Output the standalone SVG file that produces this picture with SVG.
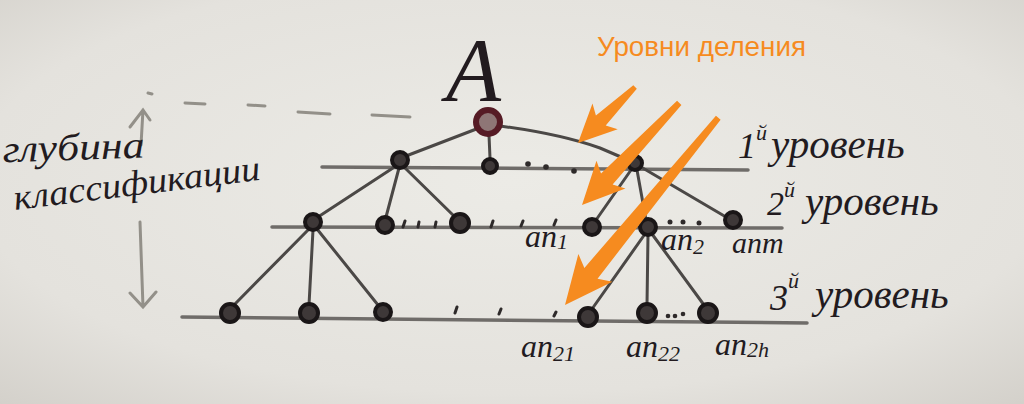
<svg xmlns="http://www.w3.org/2000/svg" width="1024" height="404" viewBox="0 0 1024 404">
<defs>
<radialGradient id="paper" cx="0.5" cy="0.45" r="0.75">
<stop offset="0" stop-color="#ecebe6"/>
<stop offset="0.7" stop-color="#e4e2dd"/>
<stop offset="1" stop-color="#d3d0ca"/>
</radialGradient>
<style>
.lvl{stroke:#6f6c69;stroke-width:3.5;fill:none;stroke-linecap:round}
.edge{stroke:#4b4846;stroke-width:3;fill:none;stroke-linecap:round}
.tick{stroke:#2e2a2a;stroke-width:3;stroke-linecap:round}
.dash{stroke:#939089;stroke-width:3;stroke-linecap:round;fill:none}
.node{fill:#3e3838;stroke:#1a1617;stroke-width:4}
.dot{fill:#2e2a2a}
.hand{font-family:"Liberation Serif","DejaVu Serif",serif;font-style:italic;fill:#221b1f}
.sub{font-size:22px}
.arrow{fill:#f68b1f}
.orange{font-family:"Liberation Sans",Arial,sans-serif;fill:#f68b1f}
</style>
</defs>
<rect width="1024" height="404" fill="url(#paper)"/>

<g id="depth-indicator">
<path class="dash" d="M143,110 L141,145 M130,127 L143,110 L150,120"/>
<path class="dash" d="M140,222 L143,307 M130,293 L143,307 L156,292"/>
<path class="dash" d="M148,93 L152,94 M185,103 L205,104 M248,105 L265,106 M298,112 L330,114 M372,115 L410,117"/>
</g>

<g id="levels">
<path class="lvl" d="M322,167 L748,170"/>
<path class="lvl" d="M272,227 L782,228"/>
<path class="lvl" d="M182,317 L807,323"/>
</g>

<g id="connectors">
<path class="edge" d="M479,128 L406,156"/>
<path class="edge" d="M489,135 L490,158"/>
<path class="edge" d="M500,126 Q560,134 600,148 L628,160"/>
<path class="edge" d="M396,166 L318,217"/>
<path class="edge" d="M399,168 L386,217"/>
<path class="edge" d="M404,167 L455,217"/>
<path class="edge" d="M631,170 L596,220"/>
<path class="edge" d="M637,170 L646,220"/>
<path class="edge" d="M641,167 L726,217"/>
<path class="edge" d="M309,229 L234,305"/>
<path class="edge" d="M313,230 L309,305"/>
<path class="edge" d="M317,229 L378,305"/>
<path class="edge" d="M645,234 L592,309"/>
<path class="edge" d="M648,235 L647,305"/>
<path class="edge" d="M652,234 L704,305"/>
</g>

<g id="ticks">
<path class="tick" d="M403,227 L405,221 M418,227 L419,222 M435,227 L436,222 M491,227 L493,221 M521,226 L523,221 M554,225 L556,220"/>
<path class="tick" d="M455,313 L457,307 M499,314 L501,309 M554,316 L556,312"/>
<circle class="dot" cx="528" cy="164" r="2.8"/>
<circle class="dot" cx="546" cy="167" r="2.8"/>
<circle class="dot" cx="574" cy="171" r="2.8"/>
<circle class="dot" cx="670" cy="222" r="2.5"/>
<circle class="dot" cx="683" cy="222" r="2.5"/>
<circle class="dot" cx="699" cy="223" r="2.5"/>
<circle class="dot" cx="668" cy="316" r="2.3"/>
<circle class="dot" cx="675" cy="316" r="2.3"/>
<circle class="dot" cx="683" cy="314" r="2.3"/>
</g>

<g id="node-root"><circle cx="488" cy="122" r="12" fill="#8e7676" stroke="#561b25" stroke-width="6"/></g>
<g id="node-l1-a"><circle class="node" cx="400" cy="160" r="8" fill="#7a7272"/></g>
<g id="node-l1-b"><circle class="node" cx="490" cy="166" r="7" fill="#6a6262"/></g>
<g id="node-l1-c"><circle class="node" cx="635" cy="163" r="7"/></g>
<g id="node-l2-a"><circle class="node" cx="313" cy="222" r="8"/></g>
<g id="node-l2-b"><circle class="node" cx="385" cy="225" r="8"/></g>
<g id="node-l2-c"><circle class="node" cx="460" cy="223" r="9"/></g>
<g id="node-an1"><circle class="node" cx="592" cy="227" r="8"/></g>
<g id="node-an2"><circle class="node" cx="648" cy="227" r="8"/></g>
<g id="node-anm"><circle class="node" cx="733" cy="220" r="8"/></g>
<g id="node-l3-a"><circle class="node" cx="230" cy="313" r="9"/></g>
<g id="node-l3-b"><circle class="node" cx="309" cy="313" r="9"/></g>
<g id="node-l3-c"><circle class="node" cx="383" cy="312" r="8"/></g>
<g id="node-an21"><circle class="node" cx="588" cy="317" r="9"/></g>
<g id="node-an22"><circle class="node" cx="647" cy="313" r="9"/></g>
<g id="node-an2h"><circle class="node" cx="708" cy="313" r="9"/></g>

<g id="labels">
<text class="hand" x="446" y="101" font-size="90">A</text>
<text class="hand" x="3" y="160" font-size="38" textLength="142" lengthAdjust="spacingAndGlyphs" transform="rotate(-2 70 160)">глубина</text>
<text class="hand" x="15" y="210" font-size="36" textLength="248" lengthAdjust="spacingAndGlyphs" transform="rotate(-7 15 210)">классификации</text>
<text class="hand" x="525" y="247" font-size="32">an<tspan class="sub" dy="2">1</tspan></text>
<text class="hand" x="661" y="250" font-size="32">an<tspan class="sub" dy="4">2</tspan></text>
<text class="hand" x="732" y="253" font-size="30">anm</text>
<text class="hand" x="521" y="357" font-size="32">an<tspan class="sub" dy="4">21</tspan></text>
<text class="hand" x="626" y="357" font-size="32">an<tspan class="sub" dy="4">22</tspan></text>
<text class="hand" x="715" y="355" font-size="32">an<tspan class="sub" dy="2">2h</tspan></text>
<text class="hand" x="738" y="158" font-size="36">1<tspan font-size="22" dy="-18">й</tspan><tspan dy="18" dx="4" font-size="41">уровень</tspan></text>
<text class="hand" x="767" y="215" font-size="34">2<tspan font-size="22" dy="-18">й</tspan><tspan dy="18" dx="10" font-size="41">уровень</tspan></text>
<text class="hand" x="770" y="310" font-size="36">3<tspan font-size="22" dy="-22">й</tspan><tspan dy="20" dx="16" font-size="41">уровень</tspan></text>
</g>

<g id="annotations">
<text class="orange" x="597" y="56" font-size="27" textLength="209" lengthAdjust="spacingAndGlyphs">Уровни деления</text>
<path class="arrow" transform="translate(578,143) rotate(135.5)" d="M0,0 L-38,-18 L-32,-7 L-80,-2.5 L-80,2.5 L-32,7 L-38,18 Z"/>
<path class="arrow" transform="translate(582,205) rotate(133.6)" d="M0,0 L-42,-20 L-36,-8 L-141,-3 L-141,3 L-36,8 L-42,20 Z"/>
<path class="arrow" transform="translate(565,305) rotate(129.3)" d="M0,0 L-48,-22 L-41,-8.5 L-242,-3 L-242,3 L-41,8.5 L-48,22 Z"/>
</g>
</svg>
